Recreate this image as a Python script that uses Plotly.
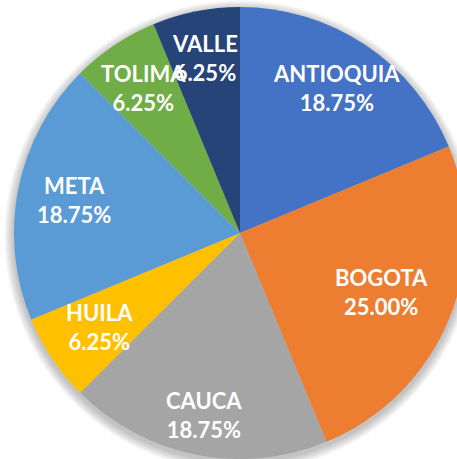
import math
import plotly.graph_objects as go

# ---- data ----
departments = ["ANTIOQUIA", "BOGOTA", "CAUCA", "HUILA", "META", "TOLIMA", "VALLE"]
counts = [3, 4, 3, 1, 3, 1, 1]
colors = ["#4472C4", "#ED7D31", "#A5A5A5", "#FFC000", "#5B9BD5", "#70AD47", "#264478"]

# ---- layout geometry (pixels) ----
W, H = 470, 459
CX, CY, R = 240, 233, 226
label_radius = [0.77, 0.68, 0.82, 0.75, 0.75, 0.77, 0.79]

dom_x = [(CX - R) / W, (CX + R) / W]
dom_y = [1 - (CY + R) / H, 1 - (CY - R) / H]

fig = go.Figure()
fig.add_trace(go.Pie(
    labels=departments, values=counts, sort=False, direction="clockwise",
    rotation=0, marker=dict(colors=colors, line=dict(width=0)),
    textinfo="none", hoverinfo="skip", showlegend=False,
    domain=dict(x=dom_x, y=dom_y),
))

# soft shadow around the pie
shapes = []
for i in range(1, 9):
    rr = R + i * 1.2
    shapes.append(dict(
        type="circle", xref="paper", yref="paper", layer="below",
        x0=(CX - rr) / W, x1=(CX + rr) / W,
        y0=1 - (CY + 3 + rr) / H, y1=1 - (CY + 3 - rr) / H,
        fillcolor="rgba(0,0,0,0.03)", line=dict(width=0),
    ))

total = sum(counts)
annotations = []
cum = 0
for name, v, f in zip(departments, counts, label_radius):
    mid = (cum + v / 2) / total * 2 * math.pi
    cum += v
    px = CX + f * R * math.sin(mid)
    py = CY - f * R * math.cos(mid)
    annotations.append(dict(
        x=px / W, y=1 - py / H, xref="paper", yref="paper",
        text=f"{name}<br>{v / total * 100:.2f}%", showarrow=False,
        font=dict(family="Lato", size=22, color="white", weight="bold"),
        align="center", xanchor="center", yanchor="middle",
    ))

fig.update_layout(
    width=W, height=H, margin=dict(l=0, r=0, t=0, b=0),
    paper_bgcolor="white", plot_bgcolor="white",
    shapes=shapes, annotations=annotations,
)

fig.write_html(
    "out.html",
    config={"displayModeBar": False},
    post_script="document.body.style.margin='0';document.body.style.overflow='hidden';",
)
